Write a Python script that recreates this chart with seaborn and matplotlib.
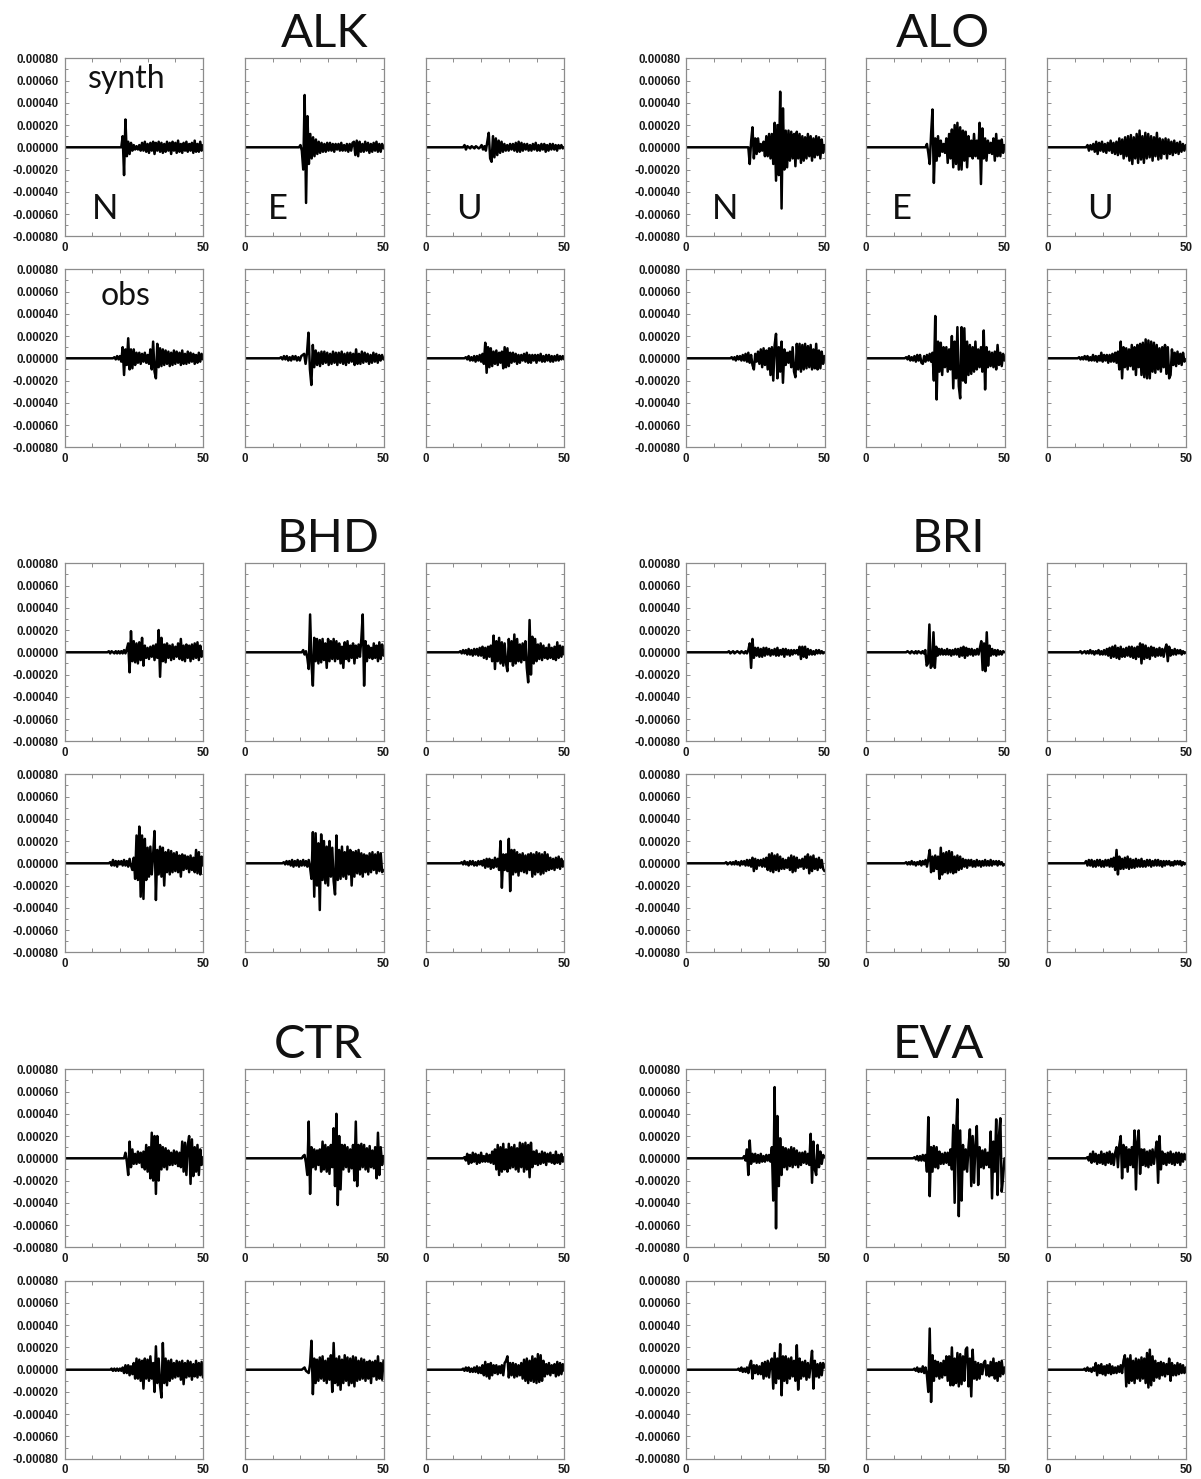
import numpy as np
import matplotlib
matplotlib.use("Agg")
import matplotlib.pyplot as plt
import seaborn as sns
from matplotlib.ticker import FixedLocator, FixedFormatter, FuncFormatter

sns.set_style("ticks")
plt.rcParams["font.family"] = ["Liberation Sans", "DejaVu Sans"]
plt.rcParams["axes.unicode_minus"] = False

# ---------------------------------------------------------------------------
# Data: station names, components, and ground-motion traces.
# Each trace is flat (zero) before its onset time; the listed samples are
# spread evenly from the onset to the end of the record. Amplitudes in 1e-5.
# ---------------------------------------------------------------------------
STATIONS = ["ALK", "ALO", "BHD", "BRI", "CTR", "EVA"]
COMPONENTS = ["N", "E", "U"]
AMP_UNIT = 1e-5
T_END = 50.0
Y_TICKS = [-0.0008, -0.0006, -0.0004, -0.0002, 0.0, 0.0002, 0.0004, 0.0006, 0.0008]
X_TICKS = [0, 10, 20, 30, 40, 50]
X_TICK_LABELS = ["0", "", "", "", "", "50"]

# ---- ALK ----
ALK_SYN_T0 = [20.5, 19.5, 13.5]
ALK_SYN_N = [0,10,-25,25,-8,5,-6,4,-3,2,-2,1,-2,2,-3,4,-3,5,-4,3,-5,4,-3,5,-6,4,-3,5,-4,4,-5,3,-4,5,-3,4,-6,5,-3,4,-5,6,-4,3,-5,4,-3,5,-4,3,-3,4,-5,6,-4,3,-4,5,-3,2]
ALK_SYN_E = [0,2,-3,-20,47,-50,28,-15,12,-10,9,-8,7,-6,5,-5,4,-4,3,-4,4,-3,4,-3,3,-4,3,-2,3,-3,4,-3,2,-3,3,-4,3,-3,4,5,-7,6,-8,5,-4,3,-4,5,-3,4,-5,3,-4,4,-3,5,-4,3,-4,3,-1]
ALK_SYN_U = [0,2,-2,1,0,-1,1,0,-1,1,0,-1,0,2,-2,1,-3,5,13,-10,-13,10,-9,8,-7,6,-5,5,-4,3,-3,2,-3,3,-2,3,-3,4,-4,5,-4,4,-3,3,-2,3,-3,2,-3,3,-2,4,-3,2,-3,3,-2,3,-4,2,-3,3,-2,3,-2,2,-3,2,-1,2,-1,0]
ALK_OBS_T0 = [17.5, 12.5, 14.0]
ALK_OBS_N = [0,1,-1,2,-1,2,-3,10,-15,8,-6,18,-10,8,-9,8,-6,5,-4,5,-5,4,-3,5,-4,3,-5,8,-10,15,-12,-18,13,-8,9,-7,8,-6,7,-5,6,-7,5,-6,7,-5,6,-4,5,-6,7,-5,4,-5,6,-4,5,-3,4,-5,3,-4,5,-3,4,-1]
ALK_OBS_E = [0,1,-1,2,-1,2,-2,1,-2,2,-1,2,-2,1,-2,2,3,4,-5,5,23,-10,-24,12,-8,7,-6,5,-7,6,-5,6,-4,5,-6,4,-5,6,-4,5,-6,5,-4,6,-5,4,-6,5,-4,5,-3,4,-6,8,-5,4,-5,6,-4,5,-3,4,-5,3,-4,5,-3,4,-4,3,-2,3,-1]
ALK_OBS_U = [0,1,-1,2,-2,1,-2,2,-3,2,-2,3,-3,4,-5,14,-13,10,-8,9,-7,6,-5,7,-6,5,-4,6,-9,10,-8,9,-7,5,-4,5,-3,4,-5,3,-4,3,-2,4,-3,5,-4,3,-4,3,-2,3,-4,3,-2,4,-3,2,-3,3,-2,3,-3,2,-3,2,-2,3,-2,2,-1,2,-1]

# ---- ALO ----
ALO_SYN_T0 = [22.5, 21.5, 14.0]
ALO_SYN_N = [0,-15,5,18,-10,8,-6,8,-4,3,-3,5,-8,10,-8,12,-10,12,-15,22,-30,20,-25,50,-55,35,-20,15,-18,15,-12,14,-10,12,-17,14,-10,12,-14,10,-12,9,-10,12,-8,10,-12,8,-9,10,-7,9,-10,7,-5,2]
ALO_SYN_E = [0,3,-5,-15,12,34,-32,8,-12,10,-8,6,-4,3,-5,8,-14,12,-10,16,-18,20,-15,22,-20,18,-20,15,-12,14,-18,10,-8,6,-10,12,-8,6,-10,22,-33,17,-10,8,-12,6,-5,4,-6,8,-12,12,-8,6,-8,7,-5,2]
ALO_SYN_U = [0,2,-3,2,-2,3,-4,5,-6,4,-3,5,-4,3,-5,4,-3,6,-5,4,-6,5,-7,8,-6,7,-10,9,-8,10,-12,11,-15,9,-10,12,-14,15,-11,10,-14,13,-10,12,-9,10,-12,9,-8,13,-11,8,-10,7,-6,8,-10,7,-6,5,-7,6,-5,4,-6,5,-4,3,-3,2]
ALO_OBS_T0 = [16.0, 14.0, 11.0]
ALO_OBS_N = [0,1,-1,1,-2,2,-1,2,-2,3,-2,4,-3,5,-4,3,-6,-10,4,-3,6,-5,8,-8,9,-6,7,-10,9,-15,10,-20,12,22,-18,10,-12,15,-22,8,-6,5,-4,6,-8,10,-12,-17,13,-10,13,-12,12,-10,13,-9,11,-8,12,-10,8,-9,13,-10,7,-9,6,-5,2]
ALO_OBS_E = [0,1,-1,2,-2,1,-2,2,-3,3,-2,3,-4,-5,2,-3,3,-2,4,-3,5,-20,38,-37,15,-12,14,-15,10,-8,10,-12,8,-10,20,-27,15,-18,28,-25,-36,28,-20,27,-22,15,-15,12,-14,10,-12,15,-10,8,-8,10,-12,25,-28,10,-8,6,-7,5,-8,6,-10,12,-6,5,-7,4,-2]
ALO_OBS_U = [0,1,-1,1,-1,2,-1,2,-2,1,-2,3,-2,2,-3,2,-2,5,-3,3,-2,3,-4,3,-3,4,-3,5,-4,6,-10,15,-18,10,-8,9,-10,8,-7,12,-10,10,-15,12,-8,13,-15,14,-17,17,-18,16,-18,15,-12,14,-13,12,-10,9,-12,10,-8,12,-14,10,-18,-15,8,-6,5,-7,6,-5,4,-6,5,-3,-1]

# ---- BHD ----
BHD_SYN_T0 = [15.0, 20.5, 12.0]
BHD_SYN_N = [0,0,1,-1,1,0,-1,1,-1,1,-1,1,-1,2,-1,3,8,-18,19,-8,10,-9,8,-10,9,-7,13,-12,6,-5,4,-6,5,-4,6,-7,7,-5,20,-22,13,-8,7,-9,8,-5,6,-7,7,-6,5,-4,8,-6,12,-7,6,-8,7,-5,6,-8,7,-6,8,-5,9,-7,6,-4,1]
BHD_SYN_E = [0,2,-2,1,-5,-15,34,-10,-30,13,-8,12,-10,11,-9,12,-7,8,-14,12,-8,10,-6,12,-8,10,-6,8,-10,5,-14,9,-6,10,-8,6,-5,8,-10,6,-5,7,-4,12,34,-30,10,-8,6,-5,4,-6,8,-5,6,-8,9,-6,7,-3]
BHD_SYN_U = [0,1,-1,2,-1,2,-2,3,-2,2,-3,3,-2,3,-3,4,-3,5,-5,4,-6,5,-4,6,-8,15,-15,10,-8,13,-10,9,-12,8,-10,-17,12,-8,10,-12,16,-10,12,-8,7,-9,8,-7,10,-14,-27,29,-20,14,-10,12,-8,7,-6,8,-7,6,-5,4,-6,7,-5,4,-6,5,-7,9,-5,6,-4,5,-2]
BHD_OBS_T0 = [16.0, 13.5, 12.5]
BHD_OBS_N = [0,1,-2,3,-2,2,-3,2,-1,2,-2,3,-2,2,-3,4,-2,-6,5,-14,25,-15,33,-30,25,-32,22,-15,14,-12,15,-10,8,29,-33,12,-10,15,-12,14,-20,10,-8,12,-10,11,-8,9,-7,10,-8,7,-12,8,-6,7,-5,6,-8,7,-6,5,-8,12,-9,10,-10,6,-2]
BHD_OBS_E = [0,1,-1,2,-1,2,-2,3,-3,2,-2,3,-3,2,-2,3,-2,2,-3,3,-4,-14,28,-30,27,-20,18,-42,26,-15,20,-18,15,-20,20,-12,14,-16,-28,25,-15,12,-14,15,-12,10,-14,15,-10,12,-20,10,-12,11,-9,12,-10,9,-12,8,-8,7,-10,9,-8,10,-6,8,-9,10,-7,9,-8,-6]
BHD_OBS_U = [0,1,-1,2,-1,1,-2,2,-1,2,-2,1,-2,2,-1,2,-2,3,-4,4,-3,4,-5,3,-4,5,-3,4,-6,20,-22,8,-6,8,-7,22,-25,12,-10,12,-8,10,-11,8,-7,9,-8,7,-9,8,-6,9,-12,8,-10,10,-8,9,-10,8,-9,10,-7,8,-6,5,-5,4,-6,5,-4,6,-5,4,-3,2]

# ---- BRI ----
BRI_SYN_T0 = [14.5, 14.5, 11.5]
BRI_SYN_N = [0,0,1,-1,0,1,-1,0,1,0,-1,1,0,-1,1,-1,2,8,-14,12,-5,4,-3,4,-4,3,-4,4,-3,4,-2,3,-3,2,-2,3,-3,4,-3,2,-2,3,-4,3,-2,2,-3,2,-2,2,-1,2,-2,5,-6,5,-4,5,-5,3,-2,2,-2,1,-2,2,-1,2,-1,1,-1,0]
BRI_SYN_E = [0,1,0,-1,1,0,-1,1,-1,1,0,-1,1,-1,2,-12,-10,25,-14,-12,18,-14,5,-3,3,-2,3,-2,2,-2,3,-2,2,-3,2,-2,3,-2,3,-4,4,-3,5,-5,4,-3,3,-2,3,-3,2,-2,3,-2,4,10,-16,8,-17,18,-12,6,-3,3,-2,2,-3,2,-2,1,-2,1,0]
BRI_SYN_U = [0,1,-1,0,1,-1,1,-1,2,-1,1,-2,1,-1,2,-2,1,-2,2,-2,3,-3,4,-5,5,-4,6,-5,4,-6,5,-4,3,-4,4,-3,5,-4,5,-5,4,-6,5,-4,8,-10,7,-6,6,-5,4,-6,5,-3,4,-4,3,-3,4,-3,3,-4,3,7,-8,5,-3,2,-2,3,-2,2,-1,2,-2,1,-1,0]
BRI_OBS_T0 = [14.0, 14.0, 13.5]
BRI_OBS_N = [0,1,-1,0,1,-1,1,-1,2,-1,1,-2,2,-1,2,-2,3,-2,3,-3,5,-7,4,-5,3,-2,3,-3,4,-3,5,-6,8,-7,9,-8,7,-6,8,-7,6,-5,4,-5,3,-4,5,-6,7,-8,6,-7,5,-4,3,-3,4,-5,6,-4,8,-9,6,-7,7,-5,4,-6,5,-4,3,-5,-7]
BRI_OBS_E = [0,1,-1,1,-1,2,-1,1,-2,1,-1,2,-2,2,-1,3,-3,4,12,-8,6,-7,7,-5,6,-14,14,-10,9,-8,10,-9,11,-8,10,-9,6,-8,7,-6,6,-5,4,-3,3,-4,3,-2,3,-3,2,-3,3,-2,2,-3,2,-2,3,-2,2,-2,3,-2,2,-1,2,-2,2,-1,1,-2,-1]
BRI_OBS_U = [0,2,-2,3,-2,3,-3,2,-3,3,-2,3,-3,2,-3,3,-2,3,-3,4,-3,5,-6,12,-10,6,-5,4,-5,5,-4,6,-5,4,-4,3,-4,4,-3,3,-3,4,-3,2,-3,3,-2,3,-3,2,-2,3,-2,3,-2,2,-3,2,-2,2,-1,2,-2,1,-2,2,-1,2,-1,2,-2,1,-1,0]

# ---- CTR ----
CTR_SYN_T0 = [21.5, 20.5, 13.5]
CTR_SYN_N = [0,5,-3,-15,15,-8,8,-5,4,-5,6,-4,5,-8,6,-10,12,-12,10,-18,23,-20,20,-32,20,-20,12,-10,10,-8,9,-10,7,-6,5,-6,7,-5,6,-7,5,-8,15,-12,14,-15,12,20,-23,17,-16,10,-12,12,-15,8,-6,1]
CTR_SYN_E = [0,2,3,-4,-15,33,-32,10,-8,8,-10,7,-6,8,-12,15,-10,12,-12,10,-14,12,-8,27,-25,40,-42,20,-28,12,-10,12,-8,10,-12,8,-9,12,-20,33,-25,12,-10,13,-8,12,-10,9,-12,11,-8,7,-9,10,-18,23,-15,10,-6,2]
CTR_SYN_U = [0,1,-2,4,-5,3,-4,5,-3,4,-5,3,-4,5,-3,2,-3,4,-3,3,-4,6,-5,8,-10,12,-15,10,-12,13,-10,8,-12,13,-9,10,-8,12,-10,9,-12,14,-8,13,-12,14,-10,12,-17,14,-8,6,-5,7,-6,4,-5,6,-4,5,-6,4,-3,5,-4,3,-5,6,-4,3,-5,4,-3,1]
CTR_OBS_T0 = [16.5, 20.5, 13.0]
CTR_OBS_N = [0,1,-1,1,-1,1,-1,1,-1,2,-3,4,-3,4,-5,3,-4,6,-8,10,-8,9,-10,8,-17,10,-8,9,-10,12,-8,6,-20,21,-12,10,-14,-25,24,-12,10,-14,8,-10,9,-8,6,-7,8,-6,7,-9,8,-13,6,-7,8,-6,7,-9,5,-6,8,-7,6,-5,7,-7]
CTR_OBS_E = [0,1,2,-1,-2,-3,5,26,-22,10,-12,9,-10,11,-8,12,-10,8,-12,10,-9,13,-20,24,-12,10,-14,12,-18,9,-12,13,-10,11,-14,10,-12,12,-15,11,-10,8,-9,10,-8,9,-10,7,-8,8,-12,7,-6,8,-9,12,-8,6,-9,8]
CTR_OBS_U = [0,1,-1,2,-1,2,-2,1,-2,2,-2,3,-3,2,-3,4,-5,7,-6,5,-8,6,-5,4,-3,4,-4,3,-3,4,-5,6,8,12,-7,6,-5,6,-7,5,-6,4,-5,6,-8,9,-10,10,-12,8,-10,12,-11,10,-12,14,-11,13,-10,8,-6,5,-4,6,-5,4,-3,5,-6,7,-5,6,-4,5,-1]

# ---- EVA ----
EVA_SYN_T0 = [20.5, 17.0, 14.0]
EVA_SYN_N = [0,2,-2,8,-15,16,-5,4,-3,4,-4,3,-4,4,-3,2,-3,3,-2,3,-3,10,-38,64,-63,38,-25,18,-15,10,-8,9,-10,8,-7,10,-8,9,-6,7,-8,5,-6,5,-4,6,-5,4,-6,22,-22,15,-10,-15,12,-8,6,-5,3,1]
EVA_SYN_E = [0,1,-1,2,-2,2,-2,3,-2,3,-12,37,-34,10,-12,11,-8,10,-9,6,-5,4,-5,5,-4,5,-6,8,-10,30,-40,20,53,-52,25,-38,12,-10,8,-12,10,26,-25,20,-22,12,29,-24,10,-8,7,-9,8,-6,5,-8,24,-36,15,-12,35,-33,20,36,-30,-17,0]
EVA_SYN_U = [0,1,-2,4,-4,6,-3,4,-5,3,-4,6,-5,4,-6,5,-4,6,-5,4,-6,5,10,-8,12,20,-18,12,-8,10,-12,8,-6,10,-8,25,-28,15,25,-14,8,-6,8,-7,6,-8,7,-6,8,-5,6,15,-22,20,-10,6,-5,4,-6,5,-4,6,-5,4,-6,5,-4,5,-6,4,-3,4,-1]
EVA_OBS_T0 = [18.5, 17.0, 13.0]
EVA_OBS_N = [0,1,-1,2,-2,1,-2,2,-3,4,8,-8,4,-3,4,-4,3,-4,6,-8,7,-6,8,-7,6,10,-17,15,-12,10,-8,23,-23,12,-10,12,-12,10,-8,11,-6,8,-10,22,-18,10,-8,7,-6,8,-9,6,-7,5,17,-17,8,-6,5,-7,6,-5,6,2]
EVA_OBS_E = [0,1,-1,2,-2,1,-2,3,-3,2,-5,-20,37,-29,13,-10,8,-6,7,-8,6,-7,8,-5,12,-10,12,-14,20,-14,10,-12,15,-15,14,-13,12,-10,18,20,-15,10,-24,18,-8,7,-9,6,-8,5,-4,6,8,-5,4,-6,7,-5,10,-8,6,-10,7,-6,8,-4,2]
EVA_OBS_U = [0,1,-1,2,-1,1,-2,2,-1,6,-5,4,-3,5,-4,3,-5,4,-3,5,-4,3,-3,2,-3,3,-2,4,-3,8,13,-15,10,-12,13,-10,8,-12,10,-8,9,-10,11,-8,10,-12,15,-16,18,-14,12,-10,8,-7,6,-8,7,-5,6,-6,5,-4,10,-10,6,-5,4,-5,6,-4,5,-3,4,-3,2]

TRACES = {
    "ALK": {"synth": (ALK_SYN_T0, [ALK_SYN_N, ALK_SYN_E, ALK_SYN_U]),
            "obs": (ALK_OBS_T0, [ALK_OBS_N, ALK_OBS_E, ALK_OBS_U])},
    "ALO": {"synth": (ALO_SYN_T0, [ALO_SYN_N, ALO_SYN_E, ALO_SYN_U]),
            "obs": (ALO_OBS_T0, [ALO_OBS_N, ALO_OBS_E, ALO_OBS_U])},
    "BHD": {"synth": (BHD_SYN_T0, [BHD_SYN_N, BHD_SYN_E, BHD_SYN_U]),
            "obs": (BHD_OBS_T0, [BHD_OBS_N, BHD_OBS_E, BHD_OBS_U])},
    "BRI": {"synth": (BRI_SYN_T0, [BRI_SYN_N, BRI_SYN_E, BRI_SYN_U]),
            "obs": (BRI_OBS_T0, [BRI_OBS_N, BRI_OBS_E, BRI_OBS_U])},
    "CTR": {"synth": (CTR_SYN_T0, [CTR_SYN_N, CTR_SYN_E, CTR_SYN_U]),
            "obs": (CTR_OBS_T0, [CTR_OBS_N, CTR_OBS_E, CTR_OBS_U])},
    "EVA": {"synth": (EVA_SYN_T0, [EVA_SYN_N, EVA_SYN_E, EVA_SYN_U]),
            "obs": (EVA_OBS_T0, [EVA_OBS_N, EVA_OBS_E, EVA_OBS_U])},
}

# ---------------------------------------------------------------------------
# Layout (pixels on a 1201 x 1479 canvas)
# ---------------------------------------------------------------------------
FIG_W, FIG_H = 1201, 1479
COL_LEFT_PX = [64.5, 245.0, 425.7, 686.0, 866.0, 1047.3]
ROW_TOP_PX = [58.3, 269.3, 563.3, 774.3, 1069.3, 1280.7]
PANEL_W_PX, PANEL_H_PX = 138.5, 178.0
TITLE_X_PX = [325, 943, 328, 948, 318, 938]
COMP_LABEL_X = {"ALK": [0.20, 0.166, 0.22], "ALO": [0.186, 0.19, 0.284]}
LABEL_FONT = dict(family="Lato", fontweight="normal", color="#111111")

fig = plt.figure(figsize=(FIG_W / 100, FIG_H / 100), dpi=100)
fig.patch.set_facecolor("white")

FRAME = "#8c8c8c"


def y_fmt(v, _pos):
    s = f"{v:.5f}"
    return "0.00000" if s == "-0.00000" else s


def trace_xy(t0, samples):
    t = np.concatenate([[0.0], np.linspace(t0, T_END, len(samples))])
    a = np.concatenate([[0.0], np.asarray(samples, dtype=float)]) * AMP_UNIT
    return t, a


for si, name in enumerate(STATIONS):
    group = si % 2
    block = si // 2
    for ri, kind in enumerate(["synth", "obs"]):
        onsets, comps = TRACES[name][kind]
        top = ROW_TOP_PX[2 * block + ri]
        for ci in range(3):
            left = COL_LEFT_PX[3 * group + ci]
            ax = fig.add_axes([left / FIG_W, 1 - (top + PANEL_H_PX) / FIG_H,
                               PANEL_W_PX / FIG_W, PANEL_H_PX / FIG_H])
            t, a = trace_xy(onsets[ci], comps[ci])
            sns.lineplot(x=t, y=a, ax=ax, color="black", linewidth=1.8,
                         estimator=None, sort=False, legend=False)
            ax.set_xlim(0, T_END)
            ax.set_ylim(-0.0008, 0.0008)
            ax.set_xlabel("")
            ax.set_ylabel("")
            ax.set_facecolor("white")
            ax.xaxis.set_major_locator(FixedLocator(X_TICKS))
            ax.xaxis.set_major_formatter(FixedFormatter(X_TICK_LABELS))
            ax.yaxis.set_major_locator(FixedLocator(Y_TICKS))
            ax.yaxis.set_minor_locator(FixedLocator(
                [v + 0.0001 for v in Y_TICKS[:-1]]))
            ax.yaxis.set_major_formatter(FuncFormatter(y_fmt))
            ax.tick_params(which="both", direction="in", top=True, right=True,
                           color=FRAME, width=0.7, labelsize=8.3, pad=4,
                           labelcolor="#1a1a1a")
            ax.tick_params(which="major", length=3)
            ax.tick_params(which="minor", length=2)
            for lab in ax.get_xticklabels() + ax.get_yticklabels():
                lab.set_fontweight("bold")
            if ci != 0:
                ax.tick_params(labelleft=False)
            for sp in ax.spines.values():
                sp.set_color(FRAME)
                sp.set_linewidth(0.9)
                sp.set_visible(True)

            if kind == "synth" and name in COMP_LABEL_X:
                ax.text(COMP_LABEL_X[name][ci], 0.10, COMPONENTS[ci],
                        transform=ax.transAxes, fontsize=25,
                        va="baseline", ha="left", **LABEL_FONT)
            if name == "ALK" and ci == 0:
                if kind == "synth":
                    ax.text(0.17, 0.833, "synth", transform=ax.transAxes,
                            fontsize=23, va="baseline", ha="left",
                            **LABEL_FONT)
                else:
                    ax.text(0.264, 0.80, "obs", transform=ax.transAxes,
                            fontsize=23, va="baseline", ha="left",
                            **LABEL_FONT)

    title_top = ROW_TOP_PX[2 * block]
    fig.text(TITLE_X_PX[si] / FIG_W, 1 - (title_top - 11) / FIG_H, name,
             fontsize=34, ha="center", va="baseline", **LABEL_FONT)

fig.savefig("out.png", dpi=100, facecolor="white")
